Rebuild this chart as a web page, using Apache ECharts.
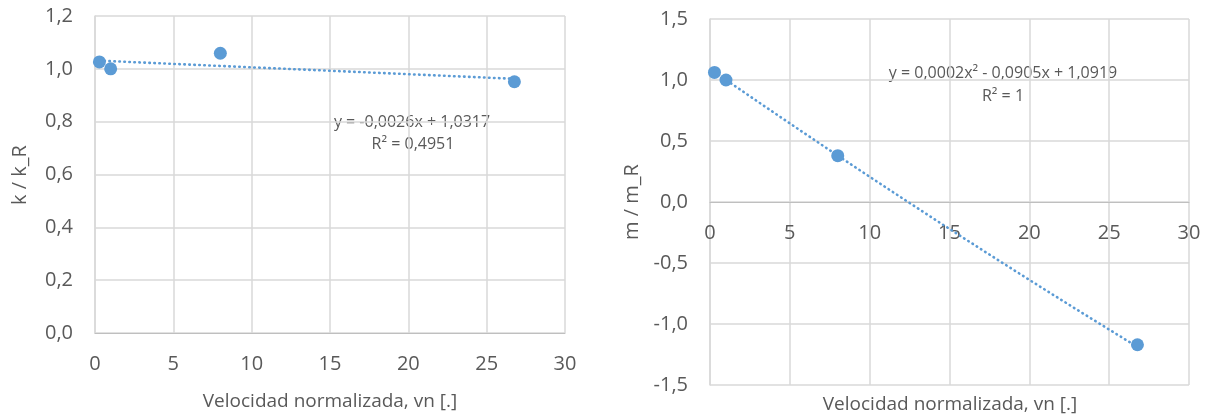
<!DOCTYPE html>
<html>
<head>
<meta charset="utf-8">
<script src="https://cdn.jsdelivr.net/npm/echarts@6/dist/echarts.min.js"></script>
<style>
  html, body { margin: 0; padding: 0; background: #ffffff; }
  #chart { width: 1212px; height: 420px; }
</style>
</head>
<body>
<div id="chart"></div>
<script>
// Normalised velocity of each test point
const vn = [0.28, 1.0, 8.0, 26.77];
// Stiffness ratio k / k_R
const kRatio = [1.026, 1.0, 1.059, 0.951];
// Mass ratio m / m_R
const mRatio = [1.062, 1.0, 0.38, -1.17];

// Trendline coefficients, highest power first
const kFit = [-0.0026, 1.0317];
const mFit = [0.0002, -0.0905, 1.0919];
const kFitLabel = ['y = -0,0026x + 1,0317', 'R² = 0,4951'];
const mFitLabel = ['y = 0,0002x² - 0,0905x + 1,0919', 'R² = 1'];

// Axis ranges: [min, max, step]
const xTicks = [0, 30, 5];
const kTicks = [0, 1.2, 0.2];
const mTicks = [-1.5, 1.5, 0.5];

const xTitle = 'Velocidad normalizada, vn [.]';
const kTitle = 'k / k_R';
const mTitle = 'm / m_R';

const FONT = '"Open Sans"';
const TEXT = '#595959';
const GRID = '#d9d9d9';
const BLUE = '#5b9bd5';

// Plot rectangles of the two panels
const G = [
  { left: 95, top: 16, width: 470, height: 317 },
  { left: 710, top: 19, width: 479, height: 366 }
];

function polyval(c, x) {
  return c.reduce((acc, a) => acc * x + a, 0);
}
function trend(c, steps) {
  const x0 = vn[0], x1 = vn[vn.length - 1];
  const pts = [];
  for (let i = 0; i <= steps; i++) {
    const x = x0 + (x1 - x0) * i / steps;
    pts.push([x, polyval(c, x)]);
  }
  return pts;
}
const comma = v => v.toFixed(1).replace('.', ',');

// Distance from the bottom edge of a panel up to its y = 0 line
function zeroOffset(g, t) {
  return g.height * (0 - t[0]) / (t[1] - t[0]);
}

function xAxisCfg(idx, t) {
  return {
    type: 'value', gridIndex: idx,
    min: xTicks[0], max: xTicks[1], interval: xTicks[2],
    axisLine: { onZero: true, lineStyle: { color: '#bfbfbf', width: 1 } },
    axisTick: { show: false },
    // labels sit just under the y = 0 line
    axisLabel: { color: TEXT, fontFamily: FONT, fontSize: 20, margin: 21 - zeroOffset(G[idx], t) },
    splitLine: { lineStyle: { color: GRID, width: 1.5 } }
  };
}
function yAxisCfg(idx, t) {
  return {
    type: 'value', gridIndex: idx,
    min: t[0], max: t[1], interval: t[2],
    axisLine: { show: true, onZero: false, lineStyle: { color: GRID, width: 1.5 } },
    axisTick: { show: false },
    axisLabel: { color: TEXT, fontFamily: FONT, fontSize: 20, margin: 22, formatter: comma },
    splitLine: { lineStyle: { color: GRID, width: 1.5 } }
  };
}
function textEl(str, x, y, size, rot) {
  return {
    type: 'text', x: x, y: y, rotation: rot || 0,
    style: { text: str, fill: TEXT, font: size + 'px ' + FONT, align: 'center', verticalAlign: 'middle' }
  };
}

// Round-dot trendline
const dotted = { color: BLUE, width: 2.6, type: [0.5, 4.5], cap: 'round' };

const chart = echarts.init(document.getElementById('chart'), null, { renderer: 'canvas' });
chart.setOption({
  backgroundColor: '#ffffff',
  animation: false,
  grid: G,
  xAxis: [xAxisCfg(0, kTicks), xAxisCfg(1, mTicks)],
  yAxis: [yAxisCfg(0, kTicks), yAxisCfg(1, mTicks)],
  series: [
    {
      type: 'line', xAxisIndex: 0, yAxisIndex: 0, data: trend(kFit, 1),
      showSymbol: false, silent: true, z: 2, lineStyle: dotted
    },
    {
      type: 'scatter', xAxisIndex: 0, yAxisIndex: 0, z: 3,
      data: vn.map((x, i) => [x, kRatio[i]]),
      symbolSize: 13, itemStyle: { color: BLUE, opacity: 1 }
    },
    {
      type: 'line', xAxisIndex: 1, yAxisIndex: 1, data: trend(mFit, 40),
      showSymbol: false, silent: true, z: 2, lineStyle: dotted
    },
    {
      type: 'scatter', xAxisIndex: 1, yAxisIndex: 1, z: 3,
      data: vn.map((x, i) => [x, mRatio[i]]),
      symbolSize: 13, itemStyle: { color: BLUE, opacity: 1 }
    }
  ],
  graphic: [
    textEl(xTitle, 330, 402, 19),
    textEl(xTitle, 950, 405, 19),
    textEl(kTitle, 20, 175, 20, Math.PI / 2),
    textEl(mTitle, 632, 202, 20, Math.PI / 2),
    textEl(kFitLabel[0], 412, 122, 16),
    textEl(kFitLabel[1], 413, 144, 16),
    textEl(mFitLabel[0], 1003, 73, 16),
    textEl(mFitLabel[1], 1003, 96, 16)
  ]
});
</script>
</body>
</html>
